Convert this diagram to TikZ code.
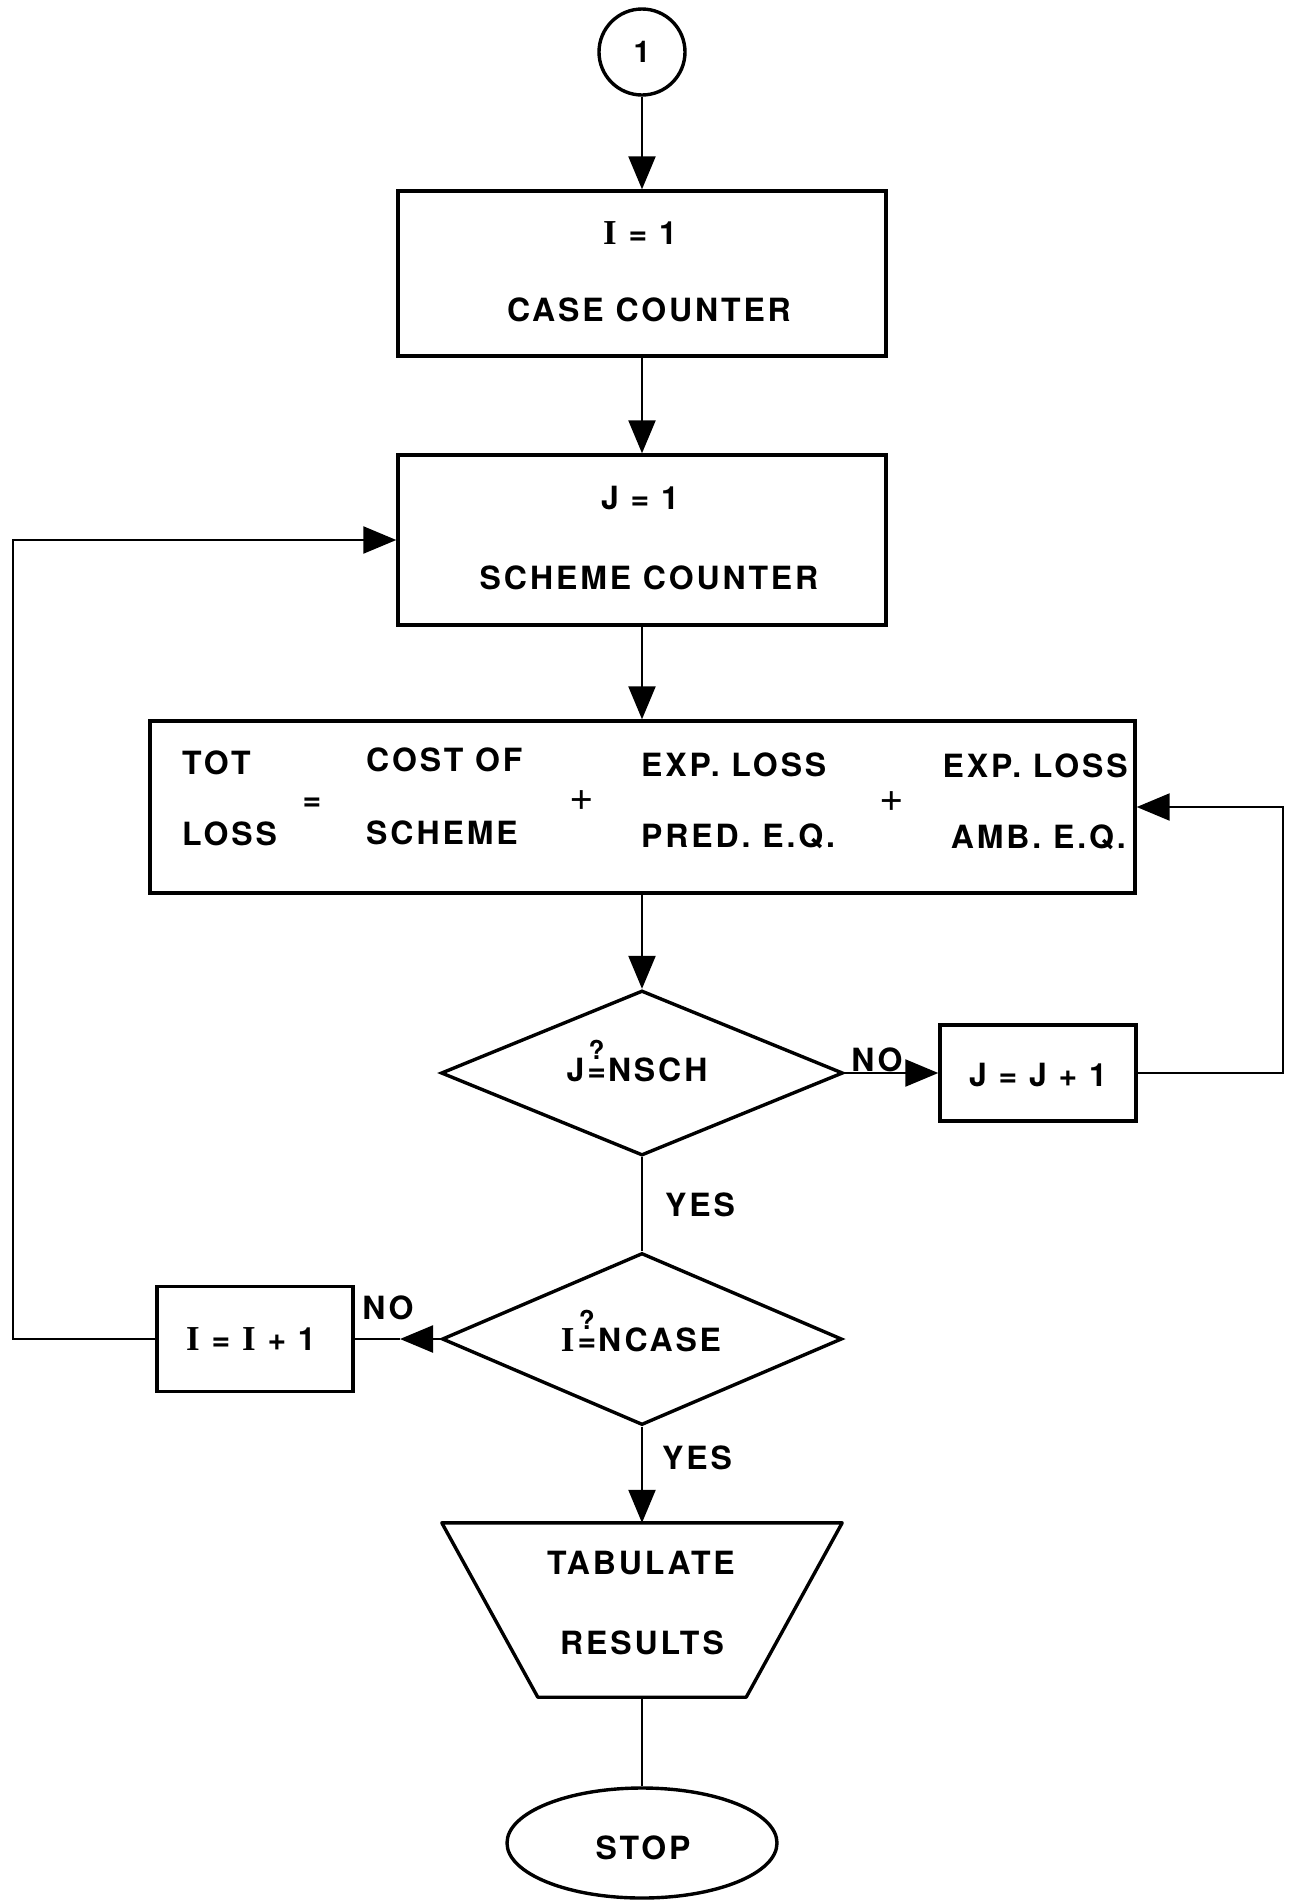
\documentclass[tikz,border=0pt]{standalone}
\usepackage{fontspec}
\usetikzlibrary{arrows.meta,shapes.geometric}

% lettering: spaced-out bold grotesque, a slab-serif capital I for the counters
\newfontfamily\lab{TeX Gyre Heros}[LetterSpace=9]
\newfontfamily\plainfont{TeX Gyre Heros}
\newfontfamily\romfont{Liberation Serif}
\newcommand\RomI{{\romfont\bfseries\fontsize{35}{36}\selectfont I}}
% "?" set over "="
\newcommand\queq{\kern3pt\ooalign{\hfil\raisebox{0.7em}{\fontsize{26}{26}\selectfont ?}\hfil\cr\hfil=\hfil\cr}\kern2pt}

\tikzset{
  x=1pt, y=-1pt,
  border/.style={draw, line width=3.4pt, inner sep=0pt},
  procbox/.style={border, rectangle},
  lbl/.style={font={\lab\bfseries\fontsize{32}{36}\selectfont}, inner sep=0pt,
              text height=23pt, text depth=0pt},
  opsym/.style={font={\plainfont\fontsize{42}{42}\selectfont}, inner sep=0pt},
  conn/.style={line width=2.3pt, line join=miter},
  arr/.style={conn, -{Triangle[length=33pt,width=27pt]}},
}

\begin{document}
\begin{tikzpicture}
\fill[white] (0,0) rectangle (1289,1904);
\useasboundingbox (0,0) rectangle (1289,1904);

% connector and counters
\node[border, circle, minimum size=86pt, font={\lab\bfseries\fontsize{30}{36}\selectfont}] (start) at (642,52) {1};

\node[procbox, minimum width=488pt, minimum height=165pt] (case) at (642,273.5) {};
\node[lbl] (caseA) at (640,233) {\RomI{} = 1};
\node[lbl] (caseB) at (649,310) {CASE COUNTER};

\node[procbox, minimum width=488pt, minimum height=170pt] (scheme) at (642,540) {};
\node[lbl] (schA) at (640,498) {J = 1};
\node[lbl] (schB) at (649,578) {SCHEME COUNTER};

% total loss equation
\node[procbox, minimum width=985pt, minimum height=172pt] (total) at (642.5,807) {};
\node[lbl, anchor=west] (totA) at (182,763) {TOT};
\node[lbl, anchor=west] (totB) at (182,834) {LOSS};
\node[lbl] (eqs) at (312,799) {=};
\node[lbl, anchor=west] (costA) at (366,760) {COST OF};
\node[lbl, anchor=west] (costB) at (366,833) {SCHEME};
\node[opsym] (plusA) at (582,801) {+};
\node[lbl, anchor=west] (predA) at (641,765) {EXP. LOSS};
\node[lbl, anchor=west] (predB) at (641,836) {PRED. E.Q.};
\node[opsym] (plusB) at (892,802) {+};
\node[lbl, anchor=east] (ambA) at (1128,766) {EXP. LOSS};
\node[lbl, anchor=east] (ambB) at (1126,837) {AMB. E.Q.};

% scheme loop
\node[border, diamond, minimum width=402pt, minimum height=165pt] (djs) at (642,1073) {};
\node[lbl] (djsT) at (637,1070) {J\queq NSCH};
\node[procbox, minimum width=196pt, minimum height=96pt] (jinc) at (1038,1073) {};
\node[lbl] (jincT) at (1038,1075) {J = J + 1};
\node[lbl] (noA) at (877,1060) {NO};
\node[lbl] (yesA) at (700,1205) {YES};

% case loop
\node[border, diamond, minimum width=400pt, minimum height=172pt] (dic) at (642,1339) {};
\node[lbl] (dicT) at (641,1340) {\RomI\queq NCASE};
\node[procbox, minimum width=196pt, minimum height=105pt] (iinc) at (255,1339) {};
\node[lbl] (iincT) at (251,1339) {\RomI{} = \RomI{} + 1};
\node[lbl] (noB) at (388,1308) {NO};
\node[lbl] (yesB) at (697,1458) {YES};

% output and end
\node[minimum width=400pt, minimum height=174pt, inner sep=0pt] (tab) at (642,1610) {};
\draw[line width=3.4pt, line join=round]
  (tab.north west) -- (tab.north east) -- ([xshift=-96pt]tab.south east)
  -- ([xshift=96pt]tab.south west) -- cycle;
\node[lbl] (tabA) at (641,1563) {TABULATE};
\node[lbl] (tabB) at (642,1643) {RESULTS};

\node[border, ellipse, minimum width=270pt, minimum height=110pt] (stop) at (642,1843) {};
\node[lbl] (stopT) at (643,1848) {STOP};

% routing points
\coordinate (rloop) at (1283,950);
\coordinate (lloop) at (13,950);
\coordinate (nomid) at (400,1339);

% connectors
\draw[arr] (start.south) -- (start.south |- case.north);
\draw[arr] (case.south) -- (scheme.north);
\draw[arr] (scheme.south) -- (scheme.south |- total.north);
\draw[arr] (djs.north |- total.south) -- (djs.north);
\draw[arr] (djs.east) -- (jinc.west);
\draw[arr] (jinc.east) -| (rloop) |- (total.east);
\draw[conn] (djs.south) -- (dic.north);
\draw[arr] (dic.west) -- (nomid);
\draw[conn] (nomid) -- (iinc.east);
\draw[arr] (iinc.west) -| (lloop) |- (scheme.west);
\draw[arr] (dic.south) -- (tab.north);
\draw[conn] (tab.south) -- (stop.north);
\end{tikzpicture}
\end{document}
